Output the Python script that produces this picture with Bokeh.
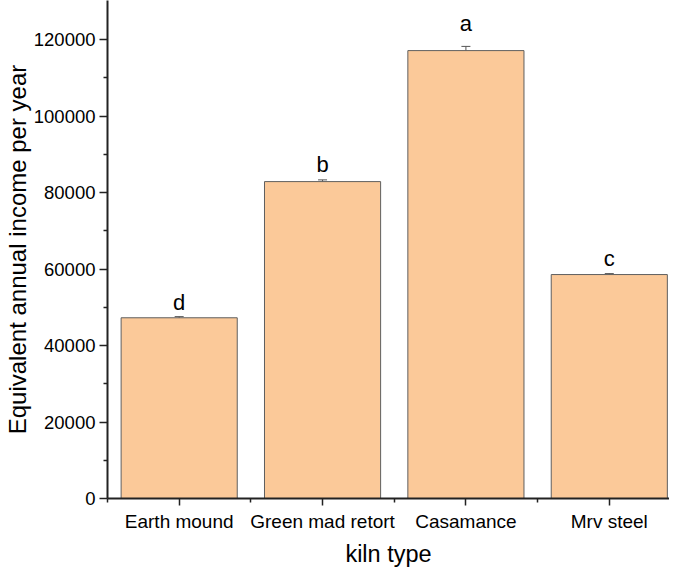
from bokeh.plotting import figure
from bokeh.models import ColumnDataSource, FixedTicker, BasicTickFormatter, Whisker, TeeHead, Range1d
from bokeh.core.properties import value
from bokeh.embed import file_html
from bokeh.resources import INLINE

categories = ["Earth mound", "Green mad retort", "Casamance", "Mrv steel"]
income = [47250, 82850, 117100, 58550]
errors = [300, 450, 1100, 250]
letters = ["d", "b", "a", "c"]
letter_y = [51200, 87400, 124300, 62700]
y_ticks = [0, 20000, 40000, 60000, 80000, 100000, 120000]
y_minor = [10000, 30000, 50000, 70000, 90000, 110000]

FONT = "Liberation Sans"
x = [i + 0.5 for i in range(len(categories))]
src = ColumnDataSource(dict(
    x=x, top=income,
    upper=[v + e for v, e in zip(income, errors)],
    lower=[v - e for v, e in zip(income, errors)],
    lab=letters, ly=letter_y,
))

p = figure(width=669, height=569, output_backend="svg", toolbar_location=None,
           x_range=Range1d(0.0, 3.92), y_range=Range1d(0, 130200),
           min_border_left=0, min_border_right=0, min_border_top=0, min_border_bottom=0)
p.outline_line_color = None
p.xgrid.visible = False
p.ygrid.visible = False
p.background_fill_color = "white"
p.border_fill_color = "white"

p.vbar(x="x", top="top", width=0.81, bottom=0, source=src,
       fill_color="#FBC999", line_color="#5f5f5f", line_width=1)

w = Whisker(base="x", upper="upper", lower="lower", source=src,
            line_color="#555555", line_width=1,
            upper_head=TeeHead(size=9, line_color="#555555", line_width=1),
            lower_head=TeeHead(size=9, line_color="#555555", line_width=1))
p.add_layout(w)

p.text(x="x", y="ly", text="lab", source=src, text_align="center",
       text_baseline="middle", text_font=value(FONT), text_font_size="22px",
       text_color="black")

# y axis
ya = p.yaxis[0]
ya.ticker = FixedTicker(ticks=y_ticks, minor_ticks=y_minor)
ya.formatter = BasicTickFormatter(use_scientific=False)
ya.axis_label = "Equivalent annual income per year"
ya.axis_label_text_font = FONT
ya.axis_label_text_font_size = "24px"
ya.axis_label_text_font_style = "normal"
ya.axis_label_text_color = "black"
ya.axis_label_standoff = 0
ya.major_label_text_font = FONT
ya.major_label_text_font_size = "18.5px"
ya.major_label_text_color = "black"
ya.major_label_standoff = 4
ya.axis_line_width = 2
ya.axis_line_color = "#222222"
ya.major_tick_line_color = "#222222"
ya.minor_tick_line_color = "#222222"
ya.major_tick_line_width = 1.5
ya.minor_tick_line_width = 1.5
ya.major_tick_out = 8
ya.major_tick_in = 0
ya.minor_tick_out = 4
ya.minor_tick_in = 0

# x axis
xa = p.xaxis[0]
xa.ticker = FixedTicker(ticks=x, minor_ticks=[0, 1, 2, 3, 4])
xa.major_label_overrides = {xi: c for xi, c in zip(x, categories)}
xa.axis_label = "kiln type"
xa.axis_label_text_font = FONT
xa.axis_label_text_font_size = "23.5px"
xa.axis_label_text_font_style = "normal"
xa.axis_label_text_color = "black"
xa.axis_label_standoff = 6
xa.major_label_text_font = FONT
xa.major_label_text_font_size = "19px"
xa.major_label_text_color = "black"
xa.major_label_standoff = 5
xa.axis_line_width = 2
xa.axis_line_color = "#222222"
xa.major_tick_line_color = "#222222"
xa.minor_tick_line_color = "#222222"
xa.major_tick_line_width = 1.5
xa.minor_tick_line_width = 1.5
xa.major_tick_out = 7
xa.major_tick_in = 0
xa.minor_tick_out = 4
xa.minor_tick_in = 0

open("out.html", "w").write(file_html(p, INLINE))
